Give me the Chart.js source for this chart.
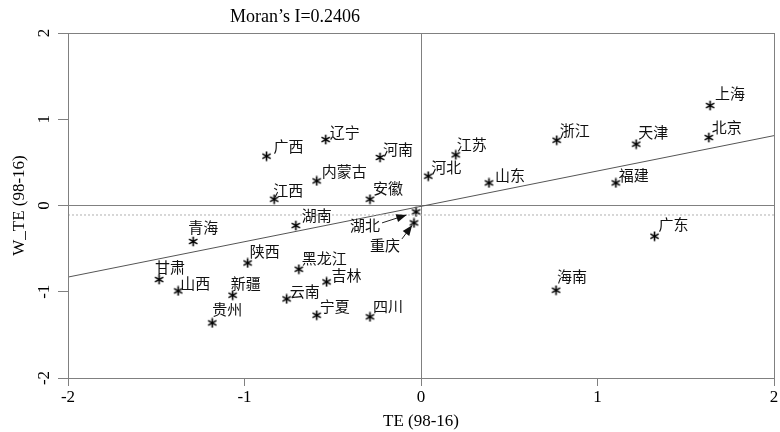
<!DOCTYPE html>
<html>
<head>
<meta charset="utf-8">
<script src="https://cdn.jsdelivr.net/npm/chart.js@4/dist/chart.umd.min.js"></script>
<style>
  body { margin: 0; background: #fff; }
</style>
</head>
<body>
<canvas id="grafico" width="780" height="432"></canvas>
<script>
// Provinces and their (TE, W_TE) values
const provincias = ['上海', '北京', '天津', '浙江', '江苏', '河北', '山东', '福建', '广东', '海南',
  '广西', '辽宁', '河南', '内蒙古', '江西', '安徽', '湖南', '湖北', '重庆', '青海',
  '陕西', '甘肃', '山西', '新疆', '贵州', '黑龙江', '吉林', '云南', '宁夏', '四川'];
const te = [1.638, 1.631, 1.219, 0.769, 0.197, 0.041, 0.385, 1.104, 1.323, 0.765,
  -0.875, -0.540, -0.232, -0.591, -0.832, -0.289, -0.709, -0.028, -0.040, -1.291,
  -0.982, -1.484, -1.376, -1.067, -1.183, -0.692, -0.535, -0.761, -0.591, -0.289];
const wte = [1.159, 0.788, 0.711, 0.757, 0.587, 0.340, 0.262, 0.262, -0.356, -0.982,
  0.572, 0.765, 0.557, 0.285, 0.073, 0.073, -0.232, -0.074, -0.202, -0.417,
  -0.666, -0.858, -0.990, -1.040, -1.361, -0.739, -0.886, -1.083, -1.272, -1.291];

// Regression line (Moran's I) and the dotted mean line
const retaX = [-2, 2];
const retaY = [-0.83, 0.81];
const mediaY = -0.11;

// Axis ticks
const ticksEixo = [-2, -1, 0, 1, 2];

// label offsets from the marker (px)
const desloc = {
  '上海': [5, -12], '北京': [3, -10], '天津': [2, -12], '浙江': [3, -10], '江苏': [1, -11],
  '河北': [3, -9], '山东': [6, -8], '福建': [3, -8], '广东': [4, -12], '海南': [1, -14],
  '广西': [7, -10], '辽宁': [4, -7], '河南': [3, -8], '内蒙古': [5, -10], '江西': [-1, -9],
  '安徽': [3, -11], '湖南': [6, -10], '湖北': [-66, 13], '重庆': [-44, 22], '青海': [-5, -14],
  '陕西': [2, -12], '甘肃': [-4, -12], '山西': [2, -8], '新疆': [-2, -12], '贵州': [0, -14],
  '黑龙江': [3, -11], '吉林': [5, -7], '云南': [3, -8], '宁夏': [3, -9], '四川': [3, -11]
};
const setas = { '湖北': 10, '重庆': 3 };

const cinza = '#808080';
const serif = '"Liberation Serif", "DejaVu Serif", serif';

// six-ray asterisk marker
const asterisco = document.createElement('canvas');
asterisco.width = 11; asterisco.height = 11;
(() => {
  const c = asterisco.getContext('2d');
  c.strokeStyle = '#000'; c.lineWidth = 1.6; c.lineCap = 'butt';
  [90, 30, -30].forEach(g => {
    const r = g * Math.PI / 180, dx = Math.cos(r) * 4.8, dy = Math.sin(r) * 4.8;
    c.beginPath(); c.moveTo(5.5 - dx, 5.5 - dy); c.lineTo(5.5 + dx, 5.5 + dy); c.stroke();
  });
})();

const pluginRotulos = {
  id: 'rotulos',
  afterDraw(chart) {
    const ctx = chart.ctx;
    const sx = chart.scales.x, sy = chart.scales.y;
    const a = chart.chartArea;
    ctx.save();
    // box
    ctx.strokeStyle = cinza;
    ctx.lineWidth = 1;
    ctx.strokeRect(a.left + 0.5, a.top + 0.5, a.right - a.left, a.bottom - a.top);

    // province labels
    ctx.fillStyle = '#111';
    ctx.font = '15px "Noto Sans CJK SC", sans-serif';
    ctx.textAlign = 'left';
    ctx.textBaseline = 'middle';
    provincias.forEach((nome, i) => {
      const px = sx.getPixelForValue(te[i]);
      const py = sy.getPixelForValue(wte[i]);
      const d = desloc[nome];
      ctx.fillText(nome, px + d[0], py + d[1]);
      if (setas[nome] !== undefined) {
        const w = ctx.measureText(nome).width;
        const x0 = px + d[0] + w + 2, y0 = py + d[1] + (nome === '重庆' ? -6 : -2);
        const ang = Math.atan2(py - y0, px - x0);
        const dist = Math.hypot(px - x0, py - y0) - setas[nome];
        const tx = x0 + Math.cos(ang) * dist, ty = y0 + Math.sin(ang) * dist;
        ctx.strokeStyle = '#222';
        ctx.beginPath(); ctx.moveTo(x0, y0); ctx.lineTo(tx, ty); ctx.stroke();
        ctx.beginPath();
        ctx.moveTo(tx, ty);
        ctx.lineTo(tx - 11 * Math.cos(ang - 0.38), ty - 11 * Math.sin(ang - 0.38));
        ctx.lineTo(tx - 11 * Math.cos(ang + 0.38), ty - 11 * Math.sin(ang + 0.38));
        ctx.closePath(); ctx.fill();
      }
    });

    // rotated y tick labels and y title
    ctx.fillStyle = '#000';
    ctx.font = '17px ' + serif;
    ctx.textAlign = 'center';
    ctx.textBaseline = 'middle';
    sy.ticks.forEach(t => {
      const py = sy.getPixelForValue(t.value);
      ctx.save();
      ctx.translate(45, py);
      ctx.rotate(-Math.PI / 2);
      ctx.fillText(String(t.value), 0, 0);
      ctx.restore();
    });
    ctx.save();
    ctx.translate(20, (a.top + a.bottom) / 2);
    ctx.rotate(-Math.PI / 2);
    ctx.fillText('W_TE (98-16)', 0, 0);
    ctx.restore();

    // title
    ctx.font = '18px ' + serif;
    ctx.fillText('Moran\u2019s I=0.2406', 295, 17);
    ctx.restore();
  }
};

const ctxGrafico = document.getElementById('grafico').getContext('2d');
new Chart(ctxGrafico, {
  type: 'scatter',
  data: {
    datasets: [
      {
        data: retaX.map(x => ({ x: x, y: mediaY })),
        showLine: true, borderColor: '#b0b0b0', borderWidth: 1, borderDash: [2, 2],
        pointRadius: 0
      },
      {
        data: retaX.map((x, i) => ({ x: x, y: retaY[i] })),
        showLine: true, borderColor: '#555', borderWidth: 1, pointRadius: 0
      },
      {
        data: te.map((x, i) => ({ x: x, y: wte[i] })),
        pointStyle: asterisco, pointRadius: 5
      }
    ]
  },
  options: {
    responsive: false,
    animation: false,
    layout: { padding: { top: 33, right: 6, left: 0, bottom: 0 } },
    plugins: { legend: { display: false }, tooltip: { enabled: false } },
    scales: {
      x: {
        type: 'linear', min: -2, max: 2,
        afterBuildTicks: s => { s.ticks = ticksEixo.map(v => ({ value: v })); },
        afterFit: s => { s.height = 54; },
        grid: {
          color: c => (c.tick && c.tick.value === 0 ? cinza : 'transparent'),
          tickColor: cinza, tickLength: 8
        },
        border: { display: false },
        ticks: { color: '#000', font: { family: serif, size: 17 }, padding: 1, maxRotation: 0 },
        title: { display: true, text: 'TE (98-16)', color: '#000', font: { family: serif, size: 17 }, padding: 0 }
      },
      y: {
        type: 'linear', min: -2, max: 2,
        afterBuildTicks: s => { s.ticks = ticksEixo.map(v => ({ value: v })); },
        afterFit: s => { s.width = 68; },
        grid: {
          color: c => (c.tick && c.tick.value === 0 ? cinza : 'transparent'),
          tickColor: cinza, tickLength: 10
        },
        border: { display: false },
        ticks: { display: false }
      }
    }
  },
  plugins: [pluginRotulos]
});
</script>
</body>
</html>
